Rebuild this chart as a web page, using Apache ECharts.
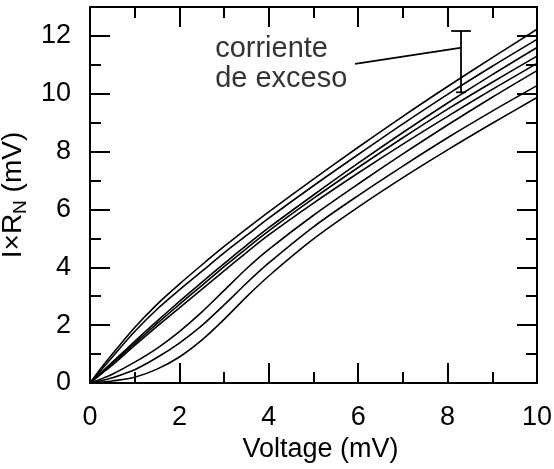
<!DOCTYPE html>
<html>
<head>
<meta charset="utf-8">
<script src="https://cdn.jsdelivr.net/npm/echarts@6/dist/echarts.min.js"></script>
<style>
html,body{margin:0;padding:0;background:#fff;}
#chart{width:554px;height:469px;}
</style>
</head>
<body>
<div id="chart"></div>
<script>
// Voltage (mV) sample points
var voltage = [0, 0.25, 0.5, 1, 1.5, 2, 2.5, 3, 3.5, 4, 5, 6, 7, 8, 9, 10];
// I x R_N (mV) curves, top to bottom
var curveA = [0, 0.52, 1.0, 1.92, 2.72, 3.42, 4.08, 4.72, 5.33, 5.92, 7.05, 8.15, 9.22, 10.25, 11.25, 12.23];
var curveB = [0, 0.45, 0.9, 1.78, 2.55, 3.22, 3.86, 4.5, 5.1, 5.7, 6.82, 7.9, 8.96, 9.98, 10.95, 11.88];
var curveC = [0, 0.36, 0.72, 1.44, 2.14, 2.82, 3.48, 4.13, 4.76, 5.37, 6.5, 7.6, 8.66, 9.68, 10.66, 11.6];
var curveD = [0, 0.34, 0.68, 1.37, 2.05, 2.72, 3.37, 4.02, 4.65, 5.26, 6.38, 7.45, 8.48, 9.47, 10.4, 11.3];
var curveE = [0, 0.31, 0.62, 1.3, 1.96, 2.6, 3.24, 3.88, 4.51, 5.12, 6.22, 7.26, 8.26, 9.22, 10.15, 11.05];
var curveF = [0, 0.14, 0.3, 0.72, 1.2, 1.78, 2.45, 3.2, 3.95, 4.62, 5.8, 6.88, 7.92, 8.92, 9.88, 10.8];
var curveG = [0, 0.08, 0.18, 0.46, 0.88, 1.38, 1.98, 2.7, 3.45, 4.15, 5.4, 6.48, 7.5, 8.48, 9.4, 10.28];
var curveH = [0, 0.03, 0.07, 0.2, 0.48, 0.9, 1.48, 2.2, 2.98, 3.7, 4.98, 6.08, 7.1, 8.06, 8.98, 9.87];
var curves = [curveA, curveB, curveC, curveD, curveE, curveF, curveG, curveH];

// annotation ("corriente de exceso") in data units
var annotationLines = ['corriente', 'de exceso'];
var annotationX = 2.8;
var annotationY = [11.55, 10.5];
var errorBarX = 8.3;
var errorBarLow = 10.05;
var errorBarHigh = 12.17;
var capHalfWidth = 0.22;
var leaderStart = [5.93, 11.03];
var leaderEnd = [8.28, 11.59];

// axis settings
var xMin = 0, xMax = 10, xStep = 2;
var yMin = 0, yMax = 13, yStep = 2;

var FONT = '"Liberation Sans", Arial, Helvetica, sans-serif';
function pairs(xs, ys) { return xs.map(function (x, i) { return [x, ys[i]]; }); }

function axisCommon(showLabel) {
  return {
    axisLine: { show: true, onZero: false, lineStyle: { color: '#000', width: 2 } },
    axisTick: { show: true, inside: true, length: 20, lineStyle: { color: '#000', width: 2 } },
    minorTick: { show: true, splitNumber: 2, length: 11, lineStyle: { color: '#000', width: 2 } },
    splitLine: { show: false },
    minorSplitLine: { show: false },
    axisLabel: { show: showLabel, color: '#000', fontSize: 27, fontFamily: FONT, margin: 19,
      showMaxLabel: false }
  };
}

var xAxes = [
  Object.assign({ type: 'value', min: xMin, max: xMax, interval: xStep, position: 'bottom',
    name: 'Voltage (mV)', nameLocation: 'middle', nameGap: 45,
    nameTextStyle: { color: '#000', fontSize: 27, fontFamily: FONT, padding: [0, 0, 0, 14] } }, axisCommon(true)),
  Object.assign({ type: 'value', min: xMin, max: xMax, interval: xStep, position: 'top' }, axisCommon(false))
];
var yAxes = [
  Object.assign({ type: 'value', min: yMin, max: yMax, interval: yStep, position: 'left',
    name: 'I×R{sub|N} (mV)', nameLocation: 'middle', nameGap: 56, nameRotate: 90,
    nameTextStyle: { color: '#000', fontSize: 28, fontFamily: FONT,
      rich: { sub: { fontSize: 19, fontFamily: FONT, color: '#000', padding: [14, 0, 0, 0] } } } }, axisCommon(true)),
  Object.assign({ type: 'value', min: yMin, max: yMax, interval: yStep, position: 'right' }, axisCommon(false))
];
xAxes[0].axisLabel.margin = 21;
xAxes[0].axisLabel.showMaxLabel = true;

var series = curves.map(function (c) {
  return { type: 'line', data: pairs(voltage, c), smooth: 0.3, symbol: 'none',
    lineStyle: { color: '#000', width: 1.6 }, silent: true, z: 3 };
});

function seg(p, q) {
  return { type: 'line', data: [p, q], symbol: 'none', silent: true,
    lineStyle: { color: '#000', width: 1.8 }, z: 4 };
}
series.push(seg([errorBarX, errorBarLow], [errorBarX, errorBarHigh]));
series.push(seg([errorBarX - capHalfWidth, errorBarHigh], [errorBarX + capHalfWidth, errorBarHigh]));
series.push(seg([errorBarX - capHalfWidth / 2, errorBarLow], [errorBarX + capHalfWidth / 2, errorBarLow]));
series.push(seg(leaderStart, leaderEnd));
series.push({
  type: 'scatter', symbolSize: 0, silent: true, z: 5,
  data: annotationLines.map(function (t, i) { return { value: [annotationX, annotationY[i]], name: t }; }),
  label: { show: true, position: 'right', distance: 0, formatter: function (p) { return p.name; },
    color: '#000', fontSize: 29, fontFamily: FONT }
});

var chart = echarts.init(document.getElementById('chart'), null, { renderer: 'canvas' });
chart.setOption({
  animation: false,
  backgroundColor: '#fff',
  grid: { left: 90, right: 17, top: 7, bottom: 86, containLabel: false, outerBoundsMode: 'none' },
  xAxis: xAxes,
  yAxis: yAxes,
  series: series
});
</script>
</body>
</html>
